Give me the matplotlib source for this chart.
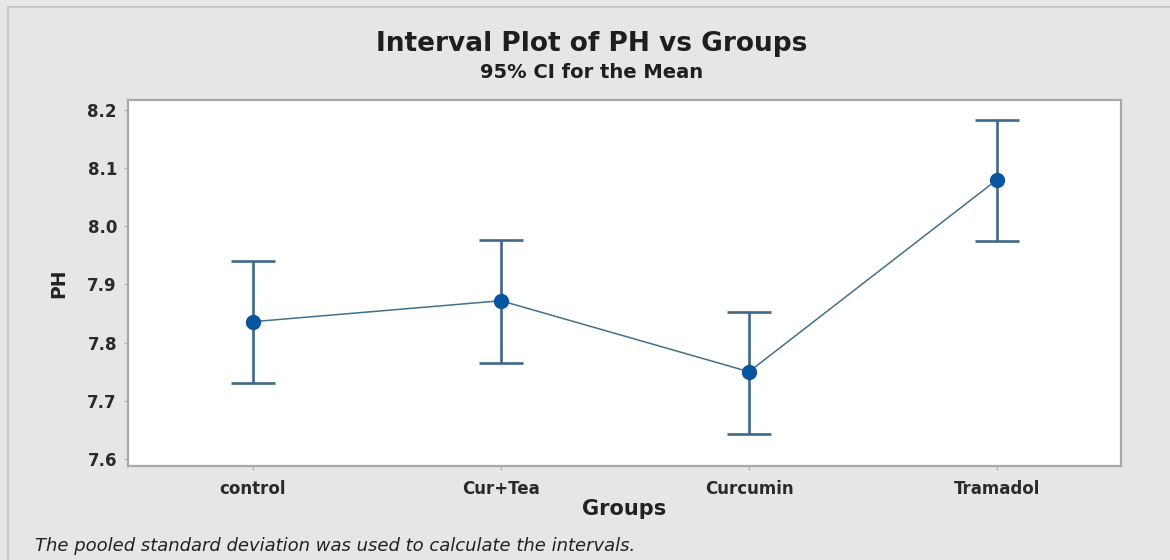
import matplotlib
matplotlib.use("Agg")
import matplotlib.pyplot as plt
from matplotlib.lines import Line2D

groups = ["control", "Cur+Tea", "Curcumin", "Tramadol"]
means = [7.836, 7.872, 7.750, 8.080]
lower = [7.731, 7.765, 7.643, 7.975]
upper = [7.940, 7.977, 7.853, 8.183]
yticks = [7.6, 7.7, 7.8, 7.9, 8.0, 8.1, 8.2]

plt.rcParams['font.family'] = ['DejaVu Sans']

fig = plt.figure(figsize=(11.7, 5.6), dpi=100)
fig.patch.set_facecolor("#e6e6e6")

# outer frame lines (top and left)
fig.add_artist(Line2D([8/1170, 1.0], [1-7/560, 1-7/560], color="#c4c4c4", lw=1.2))
fig.add_artist(Line2D([8/1170, 8/1170], [0, 1-7/560], color="#c4c4c4", lw=1.2))

ax = fig.add_axes([128/1170, 1-466/560, (1121-128)/1170, (466-100)/560])
ax.set_facecolor("white")

x = list(range(len(groups)))
err_lo = [m - l for m, l in zip(means, lower)]
err_hi = [u - m for m, u in zip(means, upper)]

ax.plot(x, means, color="#41708f", lw=1.1, zorder=2)
ax.errorbar(x, means, yerr=[err_lo, err_hi], fmt="none", ecolor="#3f6787",
            elinewidth=1.9, capsize=16, capthick=1.9, zorder=3)
ax.plot(x, means, "o", color="#0a55a0", markersize=10, zorder=4, lw=0)

ax.set_xlim(-0.504, 3.5)
ax.set_ylim(7.588, 8.217)
ax.set_xticks(x)
ax.set_xticklabels(groups)
ax.set_yticks(yticks)
ax.set_yticklabels([f"{v:.1f}" for v in yticks])

for s in ax.spines.values():
    s.set_color("#a8a8a8")
    s.set_linewidth(1.6)

ax.tick_params(axis="both", colors="#a8a8a8", length=3, width=0.8, labelcolor="#2a2a2a",
               labelsize=12)
for lab in ax.get_xticklabels() + ax.get_yticklabels():
    lab.set_fontweight("bold")
ax.tick_params(axis="x", pad=7)
ax.tick_params(axis="y", pad=5)

ax.set_xlabel("Groups", fontsize=15, fontweight="bold", color="#222222", labelpad=1)
ax.set_ylabel("PH", fontsize=13.5, fontweight="bold", color="#222222", labelpad=14)

fig.text(592/1170, 1-44/560, "Interval Plot of PH vs Groups", ha="center", va="center",
         fontsize=19, fontweight="bold", color="#1e1e1e")
fig.text(592/1170, 1-73/560, "95% CI for the Mean", ha="center", va="center",
         fontsize=14, fontweight="bold", color="#1e1e1e")
fig.text(35/1170, 1-546/560, "The pooled standard deviation was used to calculate the intervals.",
         ha="left", va="center", fontsize=13, style="italic", color="#222222")

fig.savefig("out.png", dpi=100, facecolor=fig.get_facecolor())
